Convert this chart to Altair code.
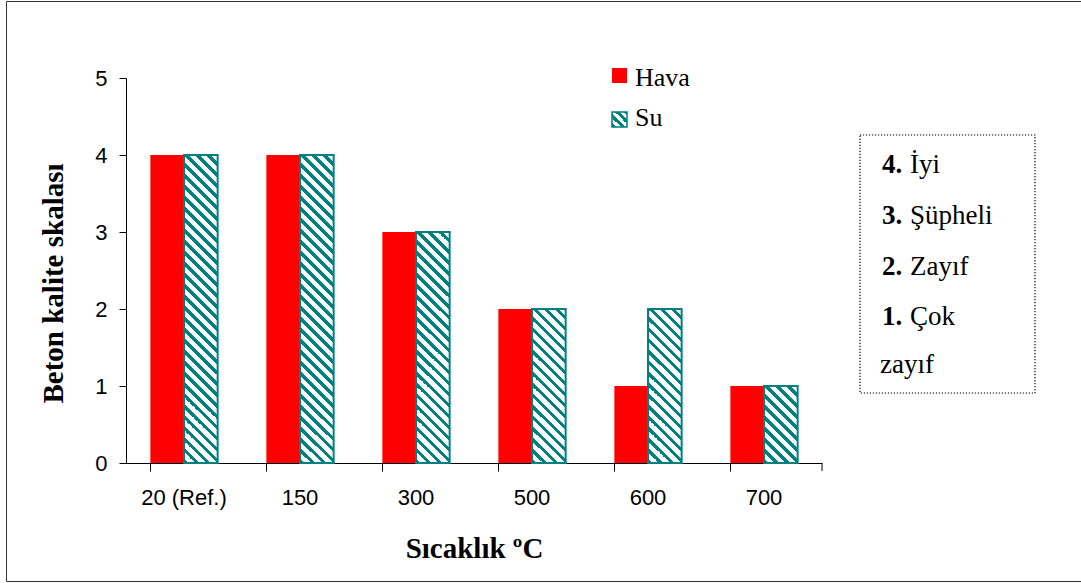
import altair as alt
import pandas as pd

# Temperatures and concrete quality scores (1 = very weak ... 4 = good)
categories = ["20 (Ref.)", "150", "300", "500", "600", "700"]
hava = [4, 4, 3, 2, 1, 1]
su = [4, 4, 3, 2, 2, 1]
series = ["Hava", "Su"]

# Quality scale key shown in the side box
scale_nums = ["4.", "3.", "2.", "1.", ""]
scale_words = ["İyi", "Şüpheli", "Zayıf", "Çok", "zayıf"]

W, H = 696, 385
Y_MAX = 5
RED = "#FF0000"
TEAL = "#008080"
SERIF = "Liberation Serif"
SANS = "Liberation Sans"

PAD_INNER, PAD_OUTER = 0.42, 0.21
step = W / (len(categories) - PAD_INNER + 2 * PAD_OUTER)
bar_w = step * (1 - PAD_INNER) / len(series)

df = pd.DataFrame({
    "kategori": categories * 2,
    "seri": ["Hava"] * len(hava) + ["Su"] * len(su),
    "deger": hava + su,
})


def hatch(w, h, period=11.0, ink=0.42):
    """Diagonal '\\' stripes as a linear gradient in bounding-box units."""
    n = (w + h) / period
    s = w * w + h * h
    x2 = w * (w + h) / s
    y2 = 1 - h * (w + h) / s
    stops = []
    k = 0
    while k < n:
        a = k / n
        b = min((k + ink) / n, 1.0)
        c = min((k + 1) / n, 1.0)
        stops += [(a, TEAL), (b, TEAL), (b, "white"), (c, "white")]
        k += 1
    return {
        "gradient": "linear",
        "x1": 0, "y1": 1, "x2": x2, "y2": y2,
        "stops": [{"offset": o, "color": col} for o, col in stops],
    }


x_enc = alt.X(
    "kategori:N",
    sort=categories,
    scale=alt.Scale(paddingInner=PAD_INNER, paddingOuter=PAD_OUTER),
    axis=alt.Axis(
        title="Sıcaklık ºC",
        bandPosition=0,
        tickSize=8,
        labelAngle=0,
        labelFont=SANS,
        labelFontSize=22,
        labelColor="black",
        labelPadding=16,
        domainColor="black",
        tickColor="black",
        grid=False,
        titleFont=SERIF,
        titleFontSize=29,
        titleFontWeight="bold",
        titleColor="black",
        titleX=W / 2,
        titleY=94,
        titleAlign="center",
        titleBaseline="alphabetic",
    ),
)
y_enc = alt.Y(
    "deger:Q",
    scale=alt.Scale(domain=[0, Y_MAX], nice=False),
    axis=alt.Axis(
        title="Beton kalite skalası",
        values=list(range(Y_MAX + 1)),
        format="d",
        tickSize=7,
        grid=False,
        labelFont=SANS,
        labelFontSize=22,
        labelColor="black",
        labelPadding=12,
        domainColor="black",
        tickColor="black",
        titleFont=SERIF,
        titleFontSize=29,
        titleFontWeight="bold",
        titleColor="black",
        titleAngle=270,
        titleX=-64,
        titleY=205,
        titleAlign="center",
        titleBaseline="alphabetic",
    ),
)
off_enc = alt.XOffset("seri:N", scale=alt.Scale(domain=series, paddingInner=0, paddingOuter=0))

base = alt.Chart(df).encode(x=x_enc, y=y_enc, xOffset=off_enc)

layers = [base.transform_filter(alt.datum.seri == "Hava").mark_bar(fill=RED)]

# One layer per hatched bar height so the stripe spacing stays constant
for v in sorted(set(su)):
    layers.append(
        base.transform_filter((alt.datum.seri == "Su") & (alt.datum.deger == v))
        .mark_bar(fill=hatch(bar_w, v * H / Y_MAX), stroke=TEAL, strokeWidth=2)
    )

# Closing tick at the right end of the category axis
layers.append(
    alt.Chart(alt.Data(values=[{"k": 0}])).mark_rule(color="black", strokeWidth=1).encode(
        x=alt.value(W), y=alt.value(H), y2=alt.value(H + 8)
    )
)

# Series key
key_y = {"Hava": (-10, 5, 8), "Su": (34, 49, 48)}
for name in series:
    y0, y1, yb = key_y[name]
    box = alt.Chart(alt.Data(values=[{"seri": name}]))
    if name == "Hava":
        sym = box.mark_rect(fill=RED)
    else:
        sym = box.mark_rect(fill=hatch(15, 15, period=9.0, ink=0.45), stroke=TEAL, strokeWidth=1.5)
    layers.append(sym.encode(x=alt.value(486), x2=alt.value(501), y=alt.value(y0), y2=alt.value(y1)))
    layers.append(
        box.mark_text(font=SERIF, fontSize=26, align="left", baseline="alphabetic", color="black")
        .encode(text="seri:N", x=alt.value(509), y=alt.value(yb))
    )

# Quality scale box
layers.append(
    alt.Chart(alt.Data(values=[{"k": 0}])).mark_rect(
        fill="transparent", stroke="#000", strokeWidth=1.2, strokeDash=[1.2, 1.8]
    ).encode(x=alt.value(734), x2=alt.value(909), y=alt.value(57), y2=alt.value(315))
)
line_y = [95, 146, 197, 247, 295]
for num, word, yb in zip(scale_nums, scale_words, line_y):
    row = alt.Chart(alt.Data(values=[{"num": num, "word": word}]))
    if num:
        layers.append(
            row.mark_text(font=SERIF, fontSize=27, fontWeight="bold", align="left",
                          baseline="alphabetic", color="black")
            .encode(text="num:N", x=alt.value(756), y=alt.value(yb))
        )
        wx = 784
    else:
        wx = 754
    layers.append(
        row.mark_text(font=SERIF, fontSize=27, align="left", baseline="alphabetic", color="black")
        .encode(text="word:N", x=alt.value(wx), y=alt.value(yb))
    )

# Outer frame
layers.append(
    alt.Chart(alt.Data(values=[{"k": 0}])).mark_rect(
        fill="transparent", stroke="#333", strokeWidth=1
    ).encode(x=alt.value(-119.5), x2=alt.value(962), y=alt.value(-76.5), y2=alt.value(503.5))
)

chart = (
    alt.layer(*layers)
    .properties(
        width=W,
        height=H,
        autosize=alt.AutoSizeParams(type="none"),
        padding={"left": 126, "top": 78, "right": 259, "bottom": 120},
        background="white",
    )
    .configure_view(stroke="transparent")
)

chart.save("out.html", embed_options={"renderer": "svg", "actions": False})
